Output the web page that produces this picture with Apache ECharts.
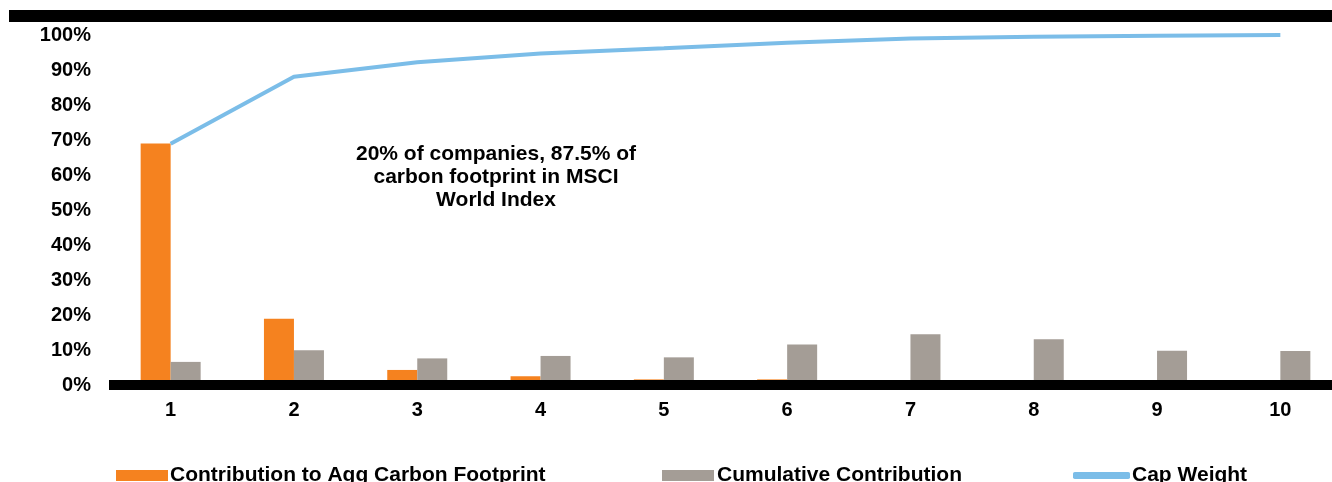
<!DOCTYPE html>
<html>
<head>
<meta charset="utf-8">
<script src="https://cdn.jsdelivr.net/npm/echarts@6/dist/echarts.min.js"></script>
<style>
html, body { margin: 0; padding: 0; background: #fff; overflow: hidden; }
/* plot runs past the right edge in the original, so the canvas is a bit wider than the window */
#main { width: 1346px; height: 482px; }
</style>
</head>
<body>
<div id="main"></div>
<script>
// data
var categories = ['1', '2', '3', '4', '5', '6', '7', '8', '9', '10'];
var contribution = [69.0, 18.9, 4.3, 2.5, 1.6, 1.6, 0.3, 0.2, 0.2, 0.1];
var cumulative = [6.6, 9.9, 7.6, 8.3, 7.9, 11.6, 14.5, 13.1, 9.8, 9.7];
var capWeight = [68.9, 88.1, 92.2, 94.7, 96.2, 97.8, 99.0, 99.5, 99.8, 100];
var note = '20% of companies, 87.5% of\ncarbon footprint in MSCI\nWorld Index';

var myChart = echarts.init(document.getElementById('main'));
var font = 'Liberation Sans, Arial, sans-serif';

var option = {
    backgroundColor: '#fff',
    animation: false,
    textStyle: { fontFamily: font },
    grid: { left: 109, width: 1233, top: 35, bottom: 97, containLabel: false },
    legend: [
        { data: [{ name: 'Contribution to Agg Carbon Footprint', icon: 'rect' }], left: 111, top: 460, itemWidth: 52, itemHeight: 11,
          textStyle: { fontSize: 21, fontWeight: 'bold', color: '#000', padding: [0, 0, 0, -3] } },
        { data: [{ name: 'Cumulative Contribution', icon: 'rect' }], left: 657, top: 460, itemWidth: 52, itemHeight: 11,
          textStyle: { fontSize: 21, fontWeight: 'bold', color: '#000', padding: [0, 0, 0, -2] } },
        { data: [{ name: 'Cap Weight', icon: 'roundRect' }], left: 1068, top: 460, itemWidth: 57, itemHeight: 7,
          textStyle: { fontSize: 21, fontWeight: 'bold', color: '#000', padding: [0, 0, 0, -3] } }
    ],
    xAxis: {
        type: 'category',
        data: categories,
        z: 10,
        axisLine: { lineStyle: { color: '#000', width: 10, cap: 'butt' } },
        axisTick: { show: false },
        axisLabel: { color: '#000', fontSize: 20, fontWeight: 'bold', margin: 15 }
    },
    yAxis: {
        type: 'value',
        min: 0,
        max: 100,
        interval: 10,
        axisLine: { show: false },
        axisTick: { show: false },
        splitLine: { show: false },
        axisLabel: { color: '#000', fontSize: 20, fontWeight: 'bold', margin: 18, formatter: '{value}%' }
    },
    graphic: [
        { type: 'rect', left: 9, top: 10, shape: { width: 1340, height: 12 }, style: { fill: '#000' } },
        { type: 'text', top: 143, z: 10,
          style: { text: note, x: 496, textAlign: 'center', font: 'bold 21px ' + font, fill: '#000', lineHeight: 23 } }
    ],
    series: [
        {
            name: 'Contribution to Agg Carbon Footprint',
            type: 'bar',
            data: contribution,
            barWidth: 30,
            barGap: '0%',
            itemStyle: { color: '#F5821F' }
        },
        {
            name: 'Cumulative Contribution',
            type: 'bar',
            data: cumulative,
            barWidth: 30,
            barGap: '0%',
            itemStyle: { color: '#A49D96' }
        },
        {
            name: 'Cap Weight',
            type: 'line',
            data: capWeight,
            symbol: 'none',
            z: 5,
            lineStyle: { color: '#7BBDE8', width: 4 },
            itemStyle: { color: '#7BBDE8' }
        }
    ]
};

myChart.setOption(option);
</script>
</body>
</html>
